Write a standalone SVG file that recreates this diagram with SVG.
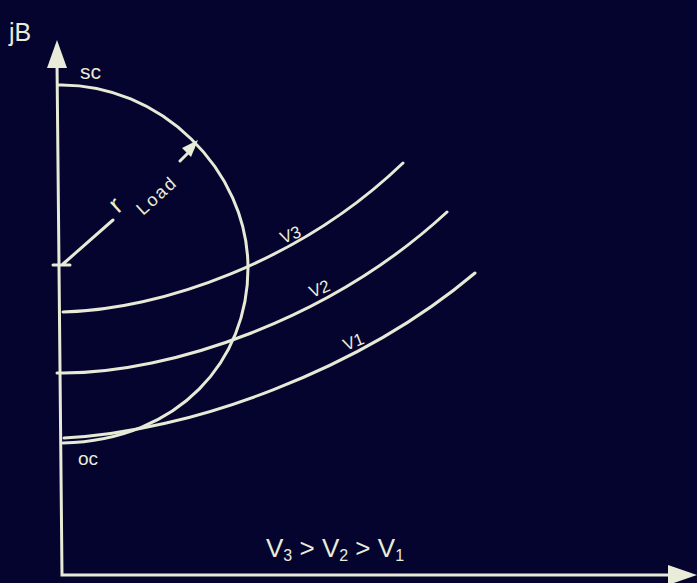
<svg xmlns="http://www.w3.org/2000/svg" width="697" height="583" viewBox="0 0 697 583">
<style>
.ln{fill:none;stroke:#e6ead6;stroke-width:3;stroke-linecap:round}
.tx{font-family:"Liberation Sans",Arial,sans-serif;fill:#e8ecd8}
</style>
<rect width="697" height="583" fill="#04042e"/>
<g id="connectors">
<path class="ln" d="M57 62 L62 575 L672 575"/>
<polygon points="57,40 47,68 67,68" fill="#e8ecd8"/>
<polygon points="697,575 668,565 668,585" fill="#e8ecd8"/>
</g>
<g id="circle">
<path class="ln" d="M58 85 C 160 83, 248 170, 248 268 C 248 360, 180 440, 63 443"/>
</g>
<g id="radius">
<path class="ln" d="M53 265 L70 265 M63 264 L113 220 M180 161 L193 148"/>
<polygon points="198,140 182,148 191,157" fill="#e8ecd8"/>
<text class="tx" font-size="26" transform="translate(118,214) rotate(-42)">r</text>
<text class="tx" font-size="18" letter-spacing="2" transform="translate(143,216) rotate(-42)">Load</text>
</g>
<g id="v3">
<path class="ln" d="M63 312 C 160 310, 300 262, 403 163"/>
<text class="tx" font-size="17" transform="translate(283,244) rotate(-22)">V3</text>
</g>
<g id="v2">
<path class="ln" d="M57 373 L63 373 C 170 373, 330 320, 447 212"/>
<text class="tx" font-size="17" transform="translate(312,298) rotate(-22)">V2</text>
</g>
<g id="v1">
<path class="ln" d="M64 438 C 190 432, 360 370, 475 273"/>
<text class="tx" font-size="17" transform="translate(346,351) rotate(-22)">V1</text>
</g>
<g id="labels">
<text class="tx" x="9" y="41" font-size="25">jB</text>
<text class="tx" x="80" y="79" font-size="21">sc</text>
<text class="tx" x="78" y="465" font-size="19">oc</text>
<text class="tx" x="266" y="557" font-size="26">V<tspan font-size="16" dy="4">3</tspan><tspan dy="-4"> &gt; V</tspan><tspan font-size="16" dy="4">2</tspan><tspan dy="-4"> &gt; V</tspan><tspan font-size="16" dy="4">1</tspan></text>
</g>
</svg>
